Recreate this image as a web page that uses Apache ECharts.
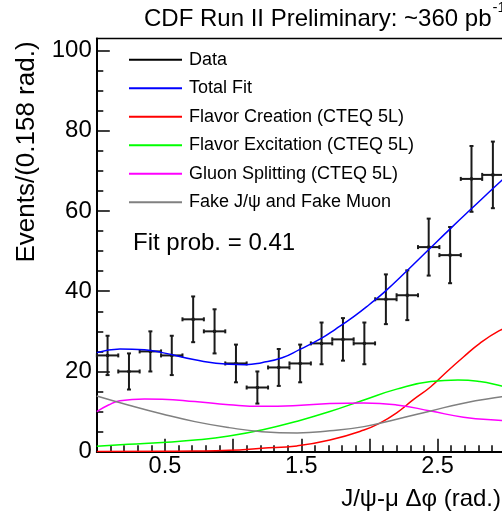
<!DOCTYPE html>
<html>
<head>
<meta charset="utf-8">
<script src="https://cdn.jsdelivr.net/npm/echarts@6/dist/echarts.min.js"></script>
<style>
  html, body { margin: 0; padding: 0; overflow: hidden; background: #fff; }
  #chart { width: 540px; height: 519px; }
</style>
</head>
<body>
<div id="chart"></div>
<script>
// data points: bin centres (rad), events, errors
const binCenters = [0.079, 0.236, 0.393, 0.550, 0.707, 0.864, 1.021, 1.178, 1.335, 1.492,
                    1.649, 1.806, 1.963, 2.121, 2.278, 2.435, 2.592, 2.749, 2.906];
const events = [24, 20, 25, 24, 33, 30, 22, 16, 21, 22, 27, 28, 27, 38, 39, 51, 49, 68, 69];
const errors = [4.9, 4.5, 5.0, 4.9, 5.7, 5.5, 4.7, 4.0, 4.6, 4.7, 5.2, 5.3, 5.2, 6.2, 6.2, 7.1, 7.0, 8.2, 8.3];
const binWidth = 0.157;

// fit curves, [dphi, events]
const totalFit = [[0, 24.7], [0.17, 25.6], [0.35, 25.4], [0.48, 24.7], [0.72, 22.9], [0.97, 21.8],
  [1.09, 21.7], [1.21, 22.2], [1.36, 23.4], [1.49, 25.5], [1.65, 28.3], [1.75, 30.5], [1.89, 33.8],
  [2.0, 36.7], [2.12, 40.1], [2.27, 44.9], [2.43, 50.2], [2.6, 55.8], [2.74, 60.3], [2.97, 67.6], [3.05, 70.0]];
const flavorCreation = [[0, 0.05], [0.5, 0.1], [0.72, 0.15], [0.97, 0.35], [1.21, 0.85], [1.47, 1.45],
  [1.71, 2.9], [1.96, 5.4], [2.08, 7.2], [2.2, 9.7], [2.32, 12.9], [2.45, 16.2], [2.57, 20.0],
  [2.69, 23.6], [2.81, 27.0], [2.95, 30.1], [3.05, 31.5]];
const flavorExcitation = [[0, 1.35], [0.23, 1.85], [0.48, 2.3], [0.72, 2.9], [0.97, 3.9], [1.21, 5.4],
  [1.47, 7.6], [1.71, 10.0], [1.96, 12.9], [2.2, 15.6], [2.45, 17.5], [2.65, 17.9], [2.81, 17.5],
  [2.97, 16.4], [3.05, 15.8]];
const gluonSplitting = [[0, 10.0], [0.086, 11.65], [0.17, 12.7], [0.35, 13.15], [0.48, 13.1], [0.72, 12.5],
  [0.97, 11.7], [1.21, 11.3], [1.47, 11.5], [1.71, 12.0], [1.96, 12.15], [2.2, 11.65], [2.45, 10.15],
  [2.69, 8.6], [2.97, 7.75], [3.05, 7.6]];
const fakeBkg = [[0, 13.9], [0.23, 11.65], [0.48, 9.4], [0.72, 7.5], [0.97, 6.0], [1.21, 5.0], [1.47, 4.67],
  [1.71, 5.2], [1.96, 6.25], [2.2, 8.1], [2.45, 10.15], [2.69, 12.1], [2.97, 13.7], [3.05, 14.1]];

const xTickLabels = [0.5, 1.5, 2.5];
const yTickLabels = [0, 20, 40, 60, 80, 100];
const yMinorTicks = [5, 10, 15, 25, 30, 35, 45, 50, 55, 65, 70, 75, 85, 90, 95];

const FONT = '"Liberation Sans", Arial, Helvetica, sans-serif';
const tickStyle = { color: '#000', width: 1.5 };

const chart = echarts.init(document.getElementById('chart'));

function renderPoint(params, api) {
  const x = api.value(0), y = api.value(1), e = api.value(2);
  const c = api.coord([x, y]);
  const l = api.coord([x - binWidth / 2, y]);
  const r = api.coord([x + binWidth / 2, y]);
  const t = api.coord([x, y + e]);
  const b = api.coord([x, y - e]);
  const st = { stroke: '#1a1a1a', lineWidth: 2 };
  const seg = (x1, y1, x2, y2) => ({ type: 'line', shape: { x1, y1, x2, y2 }, style: st });
  return {
    type: 'group',
    children: [
      seg(l[0], l[1], r[0], r[1]),
      seg(t[0], t[1], b[0], b[1]),
      seg(t[0] - 2, t[1], t[0] + 2, t[1]),
      seg(b[0] - 2, b[1], b[0] + 2, b[1]),
      seg(l[0], l[1] - 2, l[0], l[1] + 2),
      seg(r[0], r[1] - 2, r[0], r[1] + 2),
      { type: 'rect', shape: { x: c[0] - 1.5, y: c[1] - 1.5, width: 3, height: 3 }, style: { fill: '#1a1a1a' } }
    ]
  };
}

const curve = (name, data, color) => ({
  name, type: 'line', data, smooth: true, symbol: 'none', z: 3,
  color, lineStyle: { color, width: 1.5 }
});

chart.setOption({
  animation: false,
  textStyle: { fontFamily: FONT },
  grid: { left: 96.8, top: 38.5, width: 428.2, height: 413.2, show: true, borderColor: '#000', borderWidth: 1.5 },
  legend: {
    orient: 'vertical', left: 124, top: 44.8, icon: 'rect',
    itemWidth: 53, itemHeight: 2, itemGap: 8.5, selectedMode: false,
    textStyle: { fontSize: 18, lineHeight: 20, color: '#000', fontFamily: FONT, padding: [0, 0, 0, 2] },
    data: ['Data', 'Total Fit', 'Flavor Creation (CTEQ 5L)', 'Flavor Excitation (CTEQ 5L)',
           'Gluon Splitting (CTEQ 5L)', 'Fake J/\u03c8 and Fake Muon']
  },
  xAxis: {
    type: 'value', min: 0, max: Math.PI, interval: 0.5,
    axisLine: { lineStyle: { color: '#000', width: 2 } },
    axisTick: { inside: true, length: 13, lineStyle: tickStyle },
    minorTick: { show: true, splitNumber: 5, length: 6.5, lineStyle: tickStyle },
    axisLabel: { customValues: xTickLabels, formatter: v => v.toFixed(1), fontSize: 23.5, color: '#000', margin: 3, fontFamily: FONT },
    splitLine: { show: false }
  },
  yAxis: [{
    type: 'value', min: 0, max: 103, position: 'left',
    axisLine: { show: true, lineStyle: { color: '#000', width: 2 } },
    axisTick: { inside: true, length: 13, customValues: yTickLabels, lineStyle: tickStyle },
    axisLabel: { customValues: yTickLabels, fontSize: 24, color: '#000', margin: 5, fontFamily: FONT },
    splitLine: { show: false }
  }, {
    type: 'value', min: 0, max: 103, position: 'left', offset: 0,
    axisLine: { show: false },
    axisTick: { show: true, inside: true, length: 6.5, customValues: yMinorTicks, lineStyle: tickStyle },
    axisLabel: { show: false },
    splitLine: { show: false }
  }],
  series: [
    {
      name: 'Data', type: 'custom', renderItem: renderPoint, z: 2, clip: false,
      itemStyle: { color: '#000' }, color: '#000',
      data: binCenters.map((x, i) => [x, events[i], errors[i]])
    },
    curve('Total Fit', totalFit, '#0000ff'),
    curve('Flavor Creation (CTEQ 5L)', flavorCreation, '#ff0000'),
    curve('Flavor Excitation (CTEQ 5L)', flavorExcitation, '#00ff00'),
    curve('Gluon Splitting (CTEQ 5L)', gluonSplitting, '#ff00ff'),
    curve('Fake J/\u03c8 and Fake Muon', fakeBkg, '#808080')
  ],
  graphic: [
    { type: 'text', left: 144, top: 7, style: { text: 'CDF Run II Preliminary: ~360 pb', font: '24px ' + FONT, fill: '#000' } },
    { type: 'text', x: 492.5, y: 15, style: { text: '-1', font: '15px ' + FONT, fill: '#000', textVerticalAlign: 'bottom' } },
    { type: 'text', x: 133, y: 255, style: { text: 'Fit prob. = 0.41', font: '24px ' + FONT, fill: '#000', textVerticalAlign: 'bottom' } },
    { type: 'text', x: 27, y: 152, rotation: Math.PI / 2,
      style: { text: 'Events/(0.158 rad.)', font: '26px ' + FONT, fill: '#000', textAlign: 'center', textVerticalAlign: 'middle' } },
    { type: 'text', x: 501, y: 511, style: { text: 'J/\u03c8-\u03bc \u0394\u03c6 (rad.)', font: '24px ' + FONT, fill: '#000', textAlign: 'right', textVerticalAlign: 'bottom' } }
  ]
});
</script>
</body>
</html>
